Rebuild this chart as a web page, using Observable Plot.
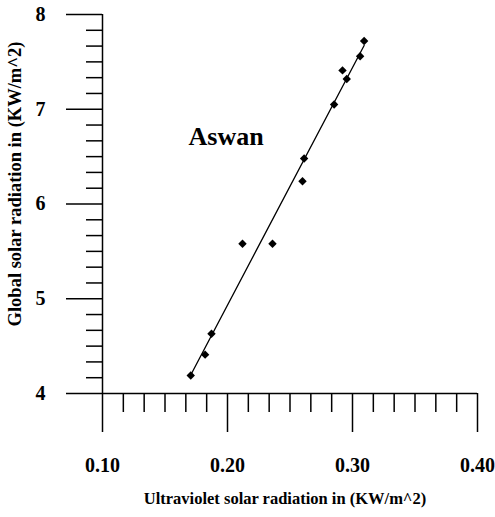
<!DOCTYPE html>
<html><head><meta charset="utf-8">
<script src="https://cdn.jsdelivr.net/npm/d3@7"></script>
<script src="https://cdn.jsdelivr.net/npm/@observablehq/plot@0.6"></script>
<style>body{margin:0;background:#fff} svg{display:block}</style>
</head><body><div id="chart"></div>
<script>
// Data (Aswan)
const uv = [0.1706, 0.1821, 0.1872, 0.2120, 0.2360, 0.2600, 0.2613, 0.2853, 0.2920, 0.2954, 0.3061, 0.3093];
const globalRad = [4.19, 4.41, 4.63, 5.58, 5.58, 6.24, 6.48, 7.05, 7.41, 7.32, 7.56, 7.72];
const xTicks = [0.10, 0.20, 0.30, 0.40];
const xTickLabels = ["0.10", "0.20", "0.30", "0.40"];
const yTicks = [4, 5, 6, 7, 8];
const yTickLabels = ["4", "5", "6", "7", "8"];
const xLabel = "Ultraviolet solar radiation in (KW/m^2)";
const yLabel = "Global solar radiation in (KW/m^2)";
const station = "Aswan";

const data = uv.map((x, i) => ({x, y: globalRad[i]}));
const xMinor = d3.range(0, 18).filter(k => k % 6).map(k => 0.1 + k / 60);
const yMinor = d3.range(0, 24).filter(k => k % 6).map(k => 4 + k / 6);

const font = "'Liberation Serif', 'Times New Roman', serif";
const chart = Plot.plot({
  width: 495, height: 517,
  marginLeft: 102, marginRight: 18, marginTop: 14, marginBottom: 124,
  x: {domain: [0.1, 0.4], label: null},
  y: {domain: [4, 8], label: null},
  style: {fontFamily: font, fontWeight: "bold", color: "#000", background: "#fff"},
  marks: [
    Plot.axisX(xMinor, {anchor: "bottom", tickSize: 19, strokeWidth: 1.5, tickFormat: () => "", label: null}),
    Plot.axisX(xTicks, {anchor: "bottom", tickSize: 39, tickPadding: 25, strokeWidth: 1.5,
      tickFormat: d => xTickLabels[xTicks.indexOf(d)], fontSize: 20, fontWeight: "bold", label: null}),
    Plot.axisY(yMinor, {anchor: "left", tickSize: 16, strokeWidth: 1.5, tickFormat: () => "", label: null}),
    Plot.axisY(yTicks, {anchor: "left", tickSize: 36, tickPadding: 21, strokeWidth: 1.5,
      tickFormat: d => yTickLabels[yTicks.indexOf(d)], fontSize: 20, fontWeight: "bold", label: null}),
    Plot.ruleY([4], {strokeWidth: 1.5}),
    Plot.ruleX([0.1], {strokeWidth: 1.5}),
    Plot.linearRegressionY(data, {x: "x", y: "y", ci: 0, stroke: "#000", strokeWidth: 1.3}),
    Plot.dot(data, {x: "x", y: "y", symbol: "diamond2", r: 3.8, fill: "#000", stroke: "none"}),
    Plot.text([station], {frameAnchor: "top-left", dx: 86, dy: 121.7, textAnchor: "start", lineAnchor: "middle",
      fontSize: 26, fontWeight: "bold"}),
    Plot.text([yLabel], {frameAnchor: "left", rotate: -90, dx: -87.5, dy: -20, textAnchor: "middle",
      lineAnchor: "middle", fontSize: 18.5, fontWeight: "bold"}),
    Plot.text([xLabel], {frameAnchor: "bottom", dx: -5, dy: 105, textAnchor: "middle", lineAnchor: "middle",
      fontSize: 16.5, fontWeight: "bold"})
  ]
});
document.getElementById("chart").appendChild(chart);
</script>
</body></html>
